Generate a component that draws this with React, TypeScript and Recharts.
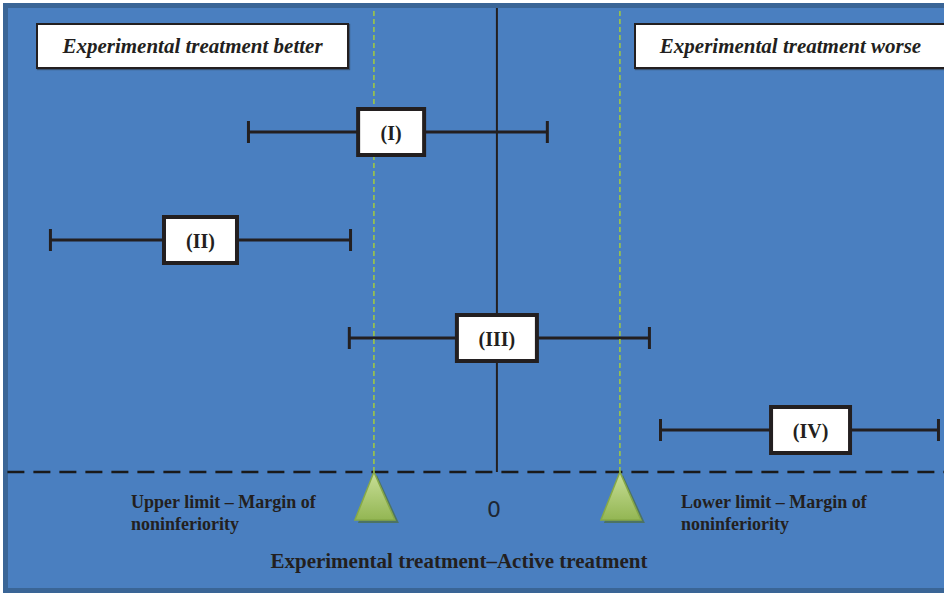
import { ComposedChart, Scatter, XAxis, YAxis, ErrorBar, ReferenceLine } from 'recharts';

// point estimates and confidence limits of the treatment difference, one row per trial
const trials = ['(I)', '(II)', '(III)', '(IV)'];
const estimates = [-0.86, -2.41, 0, 2.55];
const lowerLimits = [-2.02, -3.63, -1.2, 1.33];
const upperLimits = [0.41, -1.19, 1.24, 3.59];
const rowLevels = [3.4, 2.32, 1.34, 0.42];

// noninferiority margins either side of zero
const margins = [-1, 1];

const rows = trials.map((label, i) => ({
  label,
  x: estimates[i],
  y: rowLevels[i],
  ci: [estimates[i] - lowerLimits[i], upperLimits[i] - estimates[i]],
}));
const marginPoints = margins.map((m) => ({ x: m, y: 0 }));

const W = 944;
const H = 593;
const INK = '#231f20';
const SERIF = '"Liberation Serif", "Times New Roman", serif';

// rough bold-serif glyph widths (em) to size each label box
const glyphEm: Record<string, number> = { '(': 0.333, ')': 0.333, I: 0.389, V: 0.722 };
const labelWidth = (s: string, size: number) =>
  s.split('').reduce((sum, ch) => sum + (glyphEm[ch] ?? 0.5) * size, 0);

const BoxMark = (props: any) => {
  const { cx, cy, payload } = props;
  const w = labelWidth(payload.label, 18) + 47;
  const h = 46;
  return (
    <g>
      <rect x={cx - w / 2 + 1.5} y={cy - h / 2 + 1.5} width={w} height={h} fill="#3d4f66" opacity={0.35} />
      <rect x={cx - w / 2} y={cy - h / 2} width={w} height={h} fill="#ffffff" stroke={INK} strokeWidth={4} />
      <text
        x={cx}
        y={cy + 1}
        textAnchor="middle"
        dominantBaseline="central"
        fontFamily={SERIF}
        fontWeight="bold"
        fontSize={20}
        fill={INK}
      >
        {payload.label}
      </text>
    </g>
  );
};

const MarginTriangle = (props: any) => {
  const { cx, cy } = props;
  return (
    <g>
      <polygon
        points={`${cx + 3},${cy + 3} ${cx - 16},${cy + 51} ${cx + 25},${cy + 51}`}
        fill="#4f6a26"
        opacity={0.6}
      />
      <polygon
        points={`${cx},${cy} ${cx - 19},${cy + 48} ${cx + 21},${cy + 48}`}
        fill="url(#triFill)"
        stroke="#87a947"
        strokeWidth={1.5}
      />
    </g>
  );
};

const boxStyle: React.CSSProperties = {
  position: 'absolute',
  top: 23,
  width: 313,
  height: 46,
  boxSizing: 'border-box',
  background: '#ffffff',
  border: `2px solid ${INK}`,
  boxShadow: '1px 1px 1px rgba(40,40,40,0.5)',
  fontFamily: SERIF,
  fontWeight: 'bold',
  fontStyle: 'italic',
  fontSize: 21,
  color: INK,
  display: 'flex',
  alignItems: 'center',
  justifyContent: 'center',
};

const noteStyle: React.CSSProperties = {
  position: 'absolute',
  top: 491,
  fontFamily: SERIF,
  fontWeight: 'bold',
  fontSize: 18,
  lineHeight: '22px',
  color: INK,
  whiteSpace: 'nowrap',
};

export default function App() {
  return (
    <div style={{ position: 'absolute', left: 0, top: 0, width: W, height: H, overflow: 'hidden', background: '#fff' }}>
      <div
        style={{
          position: 'absolute',
          left: 3,
          top: 3,
          width: W + 10,
          height: H - 3,
          boxSizing: 'border-box',
          background: '#4a7fc0',
          border: '5px solid #3a6596',
        }}
      />
      <div style={{ position: 'absolute', left: 0, top: 0 }}>
        <ComposedChart width={W} height={H} margin={{ top: 0, right: 0, bottom: 0, left: 0 }}>
          <defs>
            <linearGradient id="triFill" x1="0" y1="0" x2="0" y2="1">
              <stop offset="0%" stopColor="#c9df98" />
              <stop offset="100%" stopColor="#93b653" />
            </linearGradient>
          </defs>
          <XAxis type="number" dataKey="x" domain={[-4.04, 3.635]} allowDataOverflow hide />
          <YAxis type="number" dataKey="y" domain={[-1.21, 4.72]} allowDataOverflow hide />
          <ReferenceLine
            segment={[{ x: 0, y: 0 }, { x: 0, y: 4.64 }]}
            stroke={INK}
            strokeWidth={2}
          />
          <ReferenceLine
            segment={[{ x: -3.98, y: 0 }, { x: 3.635, y: 0 }]}
            stroke="#1a1a1a"
            strokeWidth={2.5}
            strokeDasharray="17 9"
          />
          <Scatter data={rows} shape={<BoxMark />} isAnimationActive={false}>
            <ErrorBar dataKey="ci" direction="x" width={11} stroke={INK} strokeWidth={3} isAnimationActive={false} />
          </Scatter>
          {margins.map((m) => (
            <ReferenceLine
              key={m}
              segment={[{ x: m, y: 0 }, { x: m, y: 4.63 }]}
              stroke="#a3cb3c"
              strokeWidth={1.5}
              strokeDasharray="5 3"
            />
          ))}
          <Scatter data={marginPoints} shape={<MarginTriangle />} isAnimationActive={false} />
        </ComposedChart>
      </div>

      <div style={{ ...boxStyle, left: 36 }}>Experimental treatment better</div>
      <div style={{ ...boxStyle, left: 634 }}>Experimental treatment worse</div>

      <div style={{ ...noteStyle, left: 131 }}>
        Upper limit – Margin of
        <br />
        noninferiority
      </div>
      <div style={{ ...noteStyle, left: 681 }}>
        Lower limit – Margin of
        <br />
        noninferiority
      </div>
      <div
        style={{
          position: 'absolute',
          left: 474,
          width: 40,
          top: 497,
          textAlign: 'center',
          fontFamily: '"DejaVu Sans", sans-serif',
          fontSize: 22,
          color: '#1e2633',
        }}
      >
        0
      </div>
      <div
        style={{
          position: 'absolute',
          left: 0,
          width: 918,
          top: 549,
          textAlign: 'center',
          fontFamily: SERIF,
          fontWeight: 'bold',
          fontSize: 21,
          color: INK,
        }}
      >
        Experimental treatment–Active treatment
      </div>
    </div>
  );
}
